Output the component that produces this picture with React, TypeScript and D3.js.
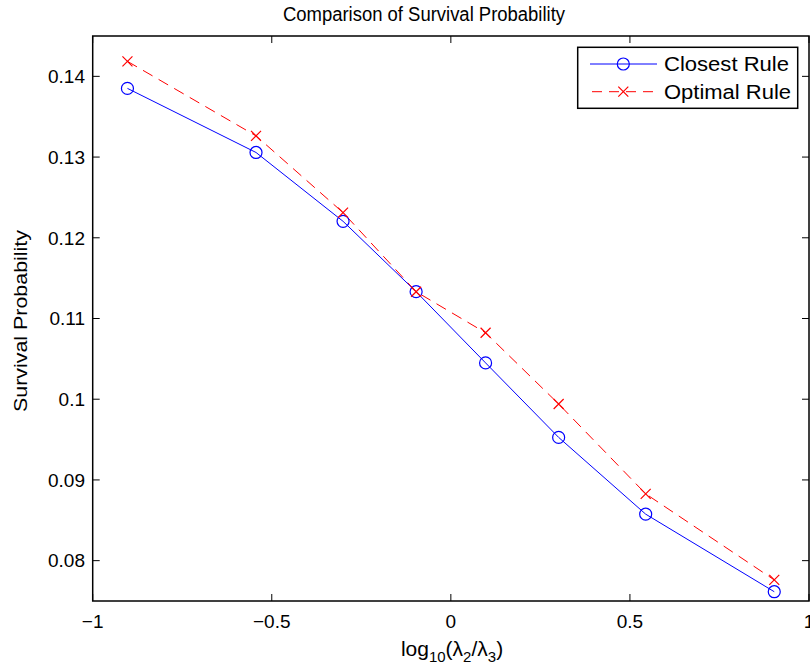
import React from "react";
import * as d3 from "d3";

const xValues = [-0.903, -0.544, -0.301, -0.097, 0.097, 0.301, 0.544, 0.903];
const closestRule = [0.13851, 0.13057, 0.12204, 0.11332, 0.1045, 0.09527, 0.08576, 0.07615];
const optimalRule = [0.14186, 0.13263, 0.12312, 0.11332, 0.10823, 0.09941, 0.08828, 0.07761];
const xTicks = [-1, -0.5, 0, 0.5, 1];
const yTicks = [0.08, 0.09, 0.1, 0.11, 0.12, 0.13, 0.14];
const seriesNames = ["Closest Rule", "Optimal Rule"];

const W = 810;
const H = 670;
const left = 92.7;
const right = 809;
const top = 36;
const bottom = 601;
const FONT = "'Liberation Sans', Arial, Helvetica, sans-serif";
const FS = 19;

function fmtX(v: number) {
  const s = String(Math.abs(v));
  return v < 0 ? "\u2212" + s : s;
}

export default function App() {
  const x = d3.scaleLinear().domain([-1, 1]).range([left, right]);
  const y = d3.scaleLinear().domain([0.075, 0.145]).range([bottom, top]);
  const line = d3
    .line<number>()
    .x((_, i) => x(xValues[i]))
    .y((d) => y(d));
  const tk = 7;

  const crossPath = (cx: number, cy: number, r: number) =>
    `M${cx - r},${cy - r}L${cx + r},${cy + r}M${cx - r},${cy + r}L${cx + r},${cy - r}`;

  // legend
  const lgX0 = 577.7;
  const lgY0 = 47.3;
  const lgW = 220;
  const lgH = 61;
  const rows = [64, 91.7];
  const lgLens = [125, 127];

  return (
    <svg
      width={W}
      height={H}
      style={{ position: "absolute", left: 0, top: 0, display: "block", background: "#fff" }}
      fontFamily={FONT}
    >
      <rect x={0} y={0} width={W} height={H} fill="#fff" />
      {/* title */}
      <text x={424} y={21} textAnchor="middle" fontSize={20} textLength={282} lengthAdjust="spacingAndGlyphs">
        Comparison of Survival Probability
      </text>

      {/* data lines */}
      <path d={line(closestRule) || ""} fill="none" stroke="#0000ff" strokeWidth={1} />
      <path
        d={line(optimalRule) || ""}
        fill="none"
        stroke="#ff0000"
        strokeWidth={1}
        strokeDasharray="11,7"
      />
      {closestRule.map((v, i) => (
        <circle key={"c" + i} cx={x(xValues[i])} cy={y(v)} r={6} fill="none" stroke="#0000ff" strokeWidth={1.2} />
      ))}
      {optimalRule.map((v, i) => (
        <path key={"x" + i} d={crossPath(x(xValues[i]), y(v), 5)} stroke="#ff0000" strokeWidth={1.2} fill="none" />
      ))}

      {/* axes box */}
      <rect x={left} y={top} width={right - left} height={bottom - top} fill="none" stroke="#000" strokeWidth={1.5} />
      {xTicks.map((t) => (
        <g key={"xt" + t}>
          <line x1={x(t)} x2={x(t)} y1={bottom} y2={bottom - tk} stroke="#000" strokeWidth={1} />
          <line x1={x(t)} x2={x(t)} y1={top} y2={top + tk} stroke="#000" strokeWidth={1} />
          <text x={x(t)} y={628} textAnchor="middle" fontSize={FS}>
            {fmtX(t)}
          </text>
        </g>
      ))}
      {yTicks.map((t) => (
        <g key={"yt" + t}>
          <line x1={left} x2={left + tk} y1={y(t)} y2={y(t)} stroke="#000" strokeWidth={1} />
          <line x1={right} x2={right - tk} y1={y(t)} y2={y(t)} stroke="#000" strokeWidth={1} />
          <text x={85} y={y(t) + 6.8} textAnchor="end" fontSize={FS}>
            {String(t)}
          </text>
        </g>
      ))}

      {/* axis labels */}
      <text x={452} y={656} textAnchor="middle" fontSize={21}>
        log
        <tspan dy={6} fontSize={15}>10</tspan>
        <tspan dy={-6}>(λ</tspan>
        <tspan dy={6} fontSize={15}>2</tspan>
        <tspan dy={-6}>/λ</tspan>
        <tspan dy={6} fontSize={15}>3</tspan>
        <tspan dy={-6}>)</tspan>
      </text>
      <text
        transform={`translate(27,321) rotate(-90)`}
        textAnchor="middle"
        fontSize={19}
        textLength={182}
        lengthAdjust="spacingAndGlyphs"
      >
        Survival Probability
      </text>

      {/* legend */}
      <rect x={lgX0} y={lgY0} width={lgW} height={lgH} fill="#fff" stroke="#000" strokeWidth={1.5} />
      <line x1={590} x2={657} y1={rows[0]} y2={rows[0]} stroke="#0000ff" strokeWidth={1} />
      <circle cx={623.3} cy={rows[0]} r={6} fill="none" stroke="#0000ff" strokeWidth={1.2} />
      <line x1={590} x2={657} y1={rows[1]} y2={rows[1]} stroke="#ff0000" strokeWidth={1} strokeDasharray="10,7" strokeDashoffset={-2} />
      <path d={crossPath(623.3, rows[1], 5)} stroke="#ff0000" strokeWidth={1.2} fill="none" />
      {seriesNames.map((n, i) => (
        <text key={n} x={664} y={rows[i] + 7} fontSize={19.5} textLength={lgLens[i]} lengthAdjust="spacingAndGlyphs">
          {n}
        </text>
      ))}
    </svg>
  );
}
